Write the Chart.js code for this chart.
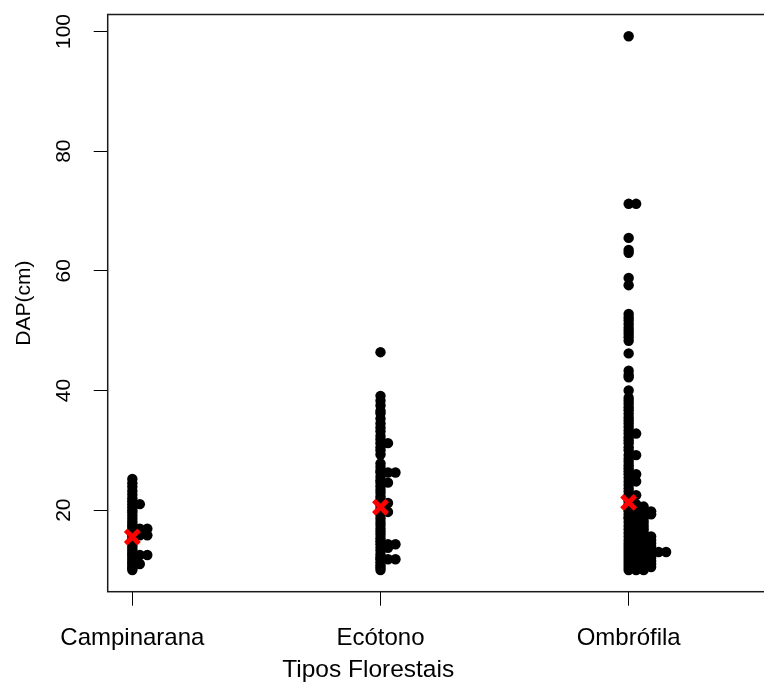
<!DOCTYPE html>
<html>
<head>
<meta charset="utf-8">
<script src="https://cdn.jsdelivr.net/npm/chart.js@4.4.1/dist/chart.umd.min.js"></script>
<style>
  html, body { margin: 0; padding: 0; background: #fff; overflow: hidden; }
  #wrap { width: 800px; height: 684px; }
</style>
</head>
<body>
<div id="wrap"><canvas id="dapChart" width="800" height="684"></canvas></div>
<script>
// Tipos florestais e DAP (cm) das arvores amostradas em cada um
const tiposFlorestais = ['Campinarana', 'Ecótono', 'Ombrófila'];

const dapCampinarana = [
  25.2, 24.5, 23.9, 23.2, 22.6, 22.0, 21.5, 21.0, 21.0, 20.5, 20.0, 19.6,
  19.1, 18.6, 18.1, 17.7, 17.3, 16.9, 16.9, 16.9, 16.4, 16.0, 15.8, 15.8,
  15.8, 15.3, 14.9, 14.5, 14.0, 13.6, 13.2, 12.8, 12.5, 12.5, 12.5, 12.1,
  11.7, 11.3, 11.0, 11.0, 10.6, 10.3, 10.0
];

const dapEcotono = [
  46.4, 39.1, 38.3, 37.5, 36.6, 36.2, 35.3, 34.5, 33.8, 33.2, 32.4, 31.8,
  31.2, 31.2, 30.5, 30.0, 29.3, 27.8, 27.2, 26.6, 26.3, 26.3, 26.3, 25.6,
  25.0, 24.6, 24.6, 24.0, 23.4, 22.9, 22.3, 21.8, 21.2, 21.2, 20.7, 20.1,
  19.7, 19.7, 19.2, 18.6, 18.0, 17.5, 16.9, 16.4, 15.9, 15.3, 14.8, 14.3,
  14.3, 14.3, 13.7, 13.7, 13.2, 12.6, 12.1, 11.8, 11.8, 11.8, 11.3, 10.8,
  10.4, 10.0
];

const dapOmbrofila = [
  99.2, 71.2, 71.2, 65.5, 63.5, 63.0, 58.8, 57.6,
  52.8, 52.2, 51.7, 51.1, 50.5, 50.0, 49.5, 48.9, 48.3, 46.2,
  43.3, 42.6, 42.2, 40.0, 38.8, 38.3, 37.8, 37.2, 36.7, 36.1, 35.5, 35.0,
  34.5, 33.9, 33.3, 32.8, 32.8, 32.2, 31.7, 31.2, 30.5, 30.0,
  29.2, 29.2, 28.6, 28.1, 27.5, 27.0, 26.5, 26.0, 26.0, 25.4, 24.8, 24.8,
  24.2, 23.6, 23.1, 22.5, 22.5, 22.0, 21.5, 21.0, 21.0, 20.6, 20.6, 20.6,
  20.1, 19.8, 19.8, 19.8, 19.8, 19.3, 19.3, 19.3, 19.3, 18.8,
  18.6, 18.6, 18.6, 18.0, 18.0, 18.0, 17.4, 17.4, 17.4, 16.8, 16.8, 16.8,
  16.2, 16.2, 16.2, 15.6, 15.6, 15.6, 15.6, 15.0, 15.0, 15.0, 15.0,
  14.5, 14.5, 14.5, 14.5, 14.0, 14.0, 14.0, 14.0, 13.5, 13.5, 13.5, 13.5,
  13.0, 13.0, 13.0, 13.0, 13.0, 13.0,
  12.5, 12.5, 12.5, 12.5, 12.0, 12.0, 12.0, 12.0, 11.5, 11.5, 11.5, 11.5,
  11.0, 11.0, 11.0, 11.0, 10.5, 10.5, 10.5, 10.5, 10.0, 10.0, 10.0
];

// media do DAP por tipo florestal (X vermelho)
const mediasDap = [15.5, 20.5, 21.3];

const yTicks = [20, 40, 60, 80, 100];

const fonte = '"Liberation Sans", Arial, sans-serif';
const stackStep = 0.0302; // deslocamento de valores repetidos (method = "stack")

// valores iguais ficam lado a lado, a direita do tipo florestal
const dapPorTipo = [dapCampinarana, dapEcotono, dapOmbrofila];
const pontos = [];
dapPorTipo.forEach((valores, i) => {
  const contagem = {};
  valores.forEach(v => {
    const k = contagem[v] || 0;
    contagem[v] = k + 1;
    pontos.push({ x: i + 1 + k * stackStep, y: v });
  });
});
const medias = mediasDap.map((m, i) => ({ x: i + 1, y: m }));

// moldura da area do grafico
const caixa = {
  id: 'caixa',
  afterDraw(chart) {
    const { ctx, chartArea: a } = chart;
    ctx.save();
    ctx.strokeStyle = '#1a1a1a';
    ctx.lineWidth = 1.5;
    ctx.strokeRect(a.left, a.top, a.right - a.left, a.bottom - a.top);
    ctx.restore();
  }
};

// rotulo do eixo x, centrado entre a borda esquerda e o ultimo tipo
const tituloX = {
  id: 'tituloX',
  afterDraw(chart) {
    const { ctx, chartArea } = chart;
    const sx = chart.scales.x;
    const cx = (chartArea.left + sx.getPixelForValue(tiposFlorestais.length)) / 2;
    ctx.save();
    ctx.fillStyle = '#000';
    ctx.font = '24.5px ' + fonte;
    ctx.textAlign = 'center';
    ctx.textBaseline = 'alphabetic';
    ctx.fillText('Tipos Florestais', cx, sx.bottom - 7);
    ctx.restore();
  }
};

new Chart(document.getElementById('dapChart'), {
  type: 'scatter',
  data: {
    datasets: [
      {
        label: 'Média',
        data: medias,
        pointStyle: 'crossRot',
        pointRadius: 9.5,
        pointBorderWidth: 5,
        borderColor: '#ff0000',
        backgroundColor: '#ff0000'
      },
      {
        label: 'DAP',
        data: pontos,
        pointStyle: 'circle',
        pointRadius: 5.2,
        pointBorderWidth: 0,
        backgroundColor: '#000000',
        borderColor: '#000000'
      }
    ]
  },
  options: {
    responsive: false,
    animation: false,
    events: [],
    layout: { padding: { left: 0, top: 13.3, right: 0, bottom: 0 } },
    plugins: {
      legend: { display: false },
      tooltip: { enabled: false }
    },
    scales: {
      x: {
        type: 'linear',
        min: 0.9007,
        max: 3.632,
        afterBuildTicks: s => { s.ticks = tiposFlorestais.map((_, i) => ({ value: i + 1 })); },
        afterFit: s => {
          s.height = 92.3;
          s.paddingLeft = 0;
          s.paddingRight = 0;
        },
        ticks: {
          callback: v => tiposFlorestais[v - 1],
          color: '#000',
          font: { family: fonte, size: 24 },
          padding: 18,
          autoSkip: false,
          minRotation: 0,
          maxRotation: 0
        },
        grid: { drawOnChartArea: false, drawTicks: true, tickLength: 14, color: '#000', lineWidth: 1 },
        border: { display: false }
      },
      y: {
        type: 'linear',
        min: 6.37,
        max: 102.84,
        afterBuildTicks: s => { s.ticks = yTicks.map(v => ({ value: v })); },
        afterFit: s => {
          s.width = 107.7;
          s.paddingTop = 0;
          s.paddingBottom = 0;
        },
        ticks: {
          color: '#000',
          font: { family: fonte, size: 21 },
          minRotation: 90,
          maxRotation: 90,
          crossAlign: 'center',
          padding: 12
        },
        title: {
          display: true,
          text: 'DAP(cm)',
          color: '#000',
          font: { family: fonte, size: 21 },
          padding: { top: 12, bottom: 0 }
        },
        grid: { drawOnChartArea: false, drawTicks: true, tickLength: 14, color: '#000', lineWidth: 1 },
        border: { display: false }
      }
    }
  },
  plugins: [caixa, tituloX]
});
</script>
</body>
</html>
